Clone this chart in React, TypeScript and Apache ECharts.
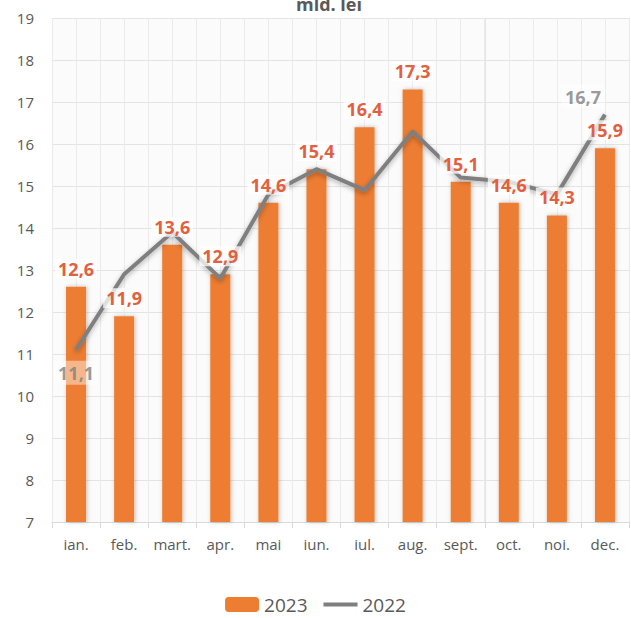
import React, { useEffect, useRef } from "react";
import * as echarts from "echarts";

const months = ["ian.", "feb.", "mart.", "apr.", "mai", "iun.", "iul.", "aug.", "sept.", "oct.", "noi.", "dec."];
const values2023 = [12.6, 11.9, 13.6, 12.9, 14.6, 15.4, 16.4, 17.3, 15.1, 14.6, 14.3, 15.9];
const values2022 = [11.1, 12.9, 13.9, 12.8, 14.8, 15.4, 14.9, 16.3, 15.2, 15.1, 14.8, 16.7];
const labelled2022 = [0, 11];
const halfSlots = Array.from({ length: 24 }, (_, i) => String(i));

const FONT = "'Open Sans', 'Liberation Sans', Arial, sans-serif";
const fmt = (v: number) => v.toFixed(1).replace(".", ",");

export default function App() {
  const ref = useRef<HTMLDivElement>(null);
  useEffect(() => {
    if (!ref.current) return;
    const chart = echarts.init(ref.current, undefined, { renderer: "svg" });
    const lineLabelData = labelled2022.map((i) => ({
      value: [i, values2022[i]],
      label:
        i === 0
          ? { position: "bottom", distance: 11 }
          : { position: "top", distance: 6, offset: [-22, 0] },
    }));
    chart.setOption({
      animation: false,
      backgroundColor: "#ffffff",
      textStyle: { fontFamily: FONT },
      title: {
        text: "mld. lei",
        left: 324,
        textAlign: "center",
        top: -10,
        textStyle: { fontSize: 18, fontWeight: "bold", color: "#595959", fontFamily: FONT },
      },
      legend: {
        data: [
          "2023",
          { name: "2022", itemStyle: { opacity: 0 }, lineStyle: { width: 4, shadowBlur: 0 } },
        ],
        bottom: -1,
        left: "center",
        itemGap: 14,
        itemWidth: 34,
        itemHeight: 15,
        textStyle: { fontSize: 19, color: "#595959", fontFamily: FONT },
      },
      grid: { left: 52, right: 2, top: 18, bottom: 96, backgroundColor: "#fbfbfb", show: true, borderWidth: 0 },
      xAxis: [
        {
          type: "category",
          data: months,
          axisLine: { lineStyle: { color: "#d9d9d9" } },
          axisTick: { show: true, length: 6, lineStyle: { color: "#d9d9d9" } },
          axisLabel: { color: "#595959", fontSize: 15, margin: 14, interval: 0, fontFamily: FONT },
          splitLine: { show: true, lineStyle: { color: "#e4e4e4" } },
        },
        {
          type: "category",
          data: halfSlots,
          position: "bottom",
          show: true,
          axisLine: { show: false },
          axisTick: { show: false },
          axisLabel: { show: false },
          splitLine: { show: true, interval: 0, lineStyle: { color: "#ebebeb" } },
        },
        {
          type: "value",
          min: -0.5,
          max: 11.5,
          show: false,
        },
      ],
      yAxis: {
        type: "value",
        min: 7,
        max: 19,
        interval: 1,
        axisLine: { show: false },
        axisTick: { show: false },
        axisLabel: { color: "#595959", fontSize: 15, margin: 18, fontFamily: FONT },
        splitLine: { lineStyle: { color: "#e4e4e4" } },
      },
      series: [
        {
          name: "2023",
          type: "bar",
          data: values2023,
          barWidth: 20,
          z: 2,
          itemStyle: {
            color: "#ED7D31",
            shadowBlur: 4,
            shadowColor: "rgba(0,0,0,0.25)",
            shadowOffsetX: 1,
          },
        },
        {
          name: "2022",
          type: "line",
          data: values2022,
          z: 4,
          symbol: "none",
          lineStyle: {
            color: "#7f7f7f",
            width: 4,
            shadowBlur: 5,
            shadowColor: "rgba(0,0,0,0.3)",
            shadowOffsetY: 2,
          },
          itemStyle: { color: "#7f7f7f" },
        },
        {
          name: "2022-labels",
          type: "scatter",
          xAxisIndex: 2,
          data: lineLabelData,
          symbolSize: 0,
          z: 9,
          silent: true,
          label: {
            show: true,
            formatter: (p: any) => fmt(p.value[1]),
            color: "#7f7f7f",
            fontSize: 18,
            fontWeight: "bold",
            fontFamily: FONT,
            backgroundColor: "rgba(255,255,255,0.55)",
            padding: [3, 4],
          },
        },
        {
          name: "2023-labels",
          type: "bar",
          data: values2023,
          barWidth: 20,
          barGap: "-100%",
          z: 10,
          silent: true,
          itemStyle: { color: "rgba(0,0,0,0)" },
          label: {
            show: true,
            position: "top",
            distance: 8,
            formatter: (p: any) => fmt(p.value),
            color: "#E2603F",
            fontSize: 18,
            fontWeight: "bold",
            fontFamily: FONT,
            backgroundColor: "rgba(255,255,255,0.75)",
            padding: [1, 3],
          },
        },
      ],
    });
    return () => chart.dispose();
  }, []);
  return <div ref={ref} style={{ width: 631, height: 618, position: "absolute", left: 0, top: 0 }} />;
}
